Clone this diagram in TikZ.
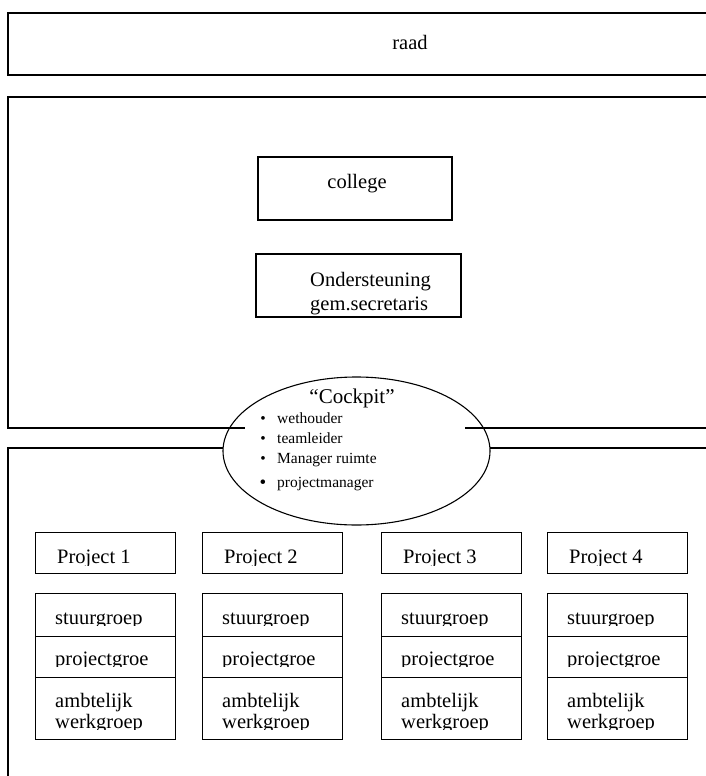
\documentclass[tikz,border=0pt]{standalone}
\usepackage{fontspec}
\setmainfont{Liberation Serif}
\usetikzlibrary{shapes.geometric}
\newcommand\cliplbl[5]{%
  \begin{scope}
    \clip (#1-8,#2-30) rectangle (#1+130,#3);
    \node[lbl] (#4) at (#1,#2) {#5};
  \end{scope}}
\begin{document}
\begin{tikzpicture}[x=1pt,y=-1pt,
  frame/.style={line width=1.4pt},
  box/.style={draw,line width=1.1pt,inner sep=0},
  lbl/.style={font=\fontsize{20.5}{23}\selectfont,anchor=base west,inner sep=0},
  clbl/.style={font=\fontsize{20.5}{23}\selectfont,anchor=base,inner sep=0},
  item/.style={font=\fontsize{15.5}{18}\selectfont,anchor=base west,inner sep=0},
  bul/.style={font=\fontsize{15.5}{18}\selectfont,anchor=base,inner sep=0}]
\useasboundingbox[fill=white] (0,0) rectangle (705,776);

% raad
\coordinate (r1) at (712,13);
\coordinate (r2) at (8,13);
\coordinate (r3) at (8,75);
\coordinate (r4) at (712,75);
\draw[frame] (r1) -- (r2) -- (r3) -- (r4);
\node[clbl] (raad) at (410,50) {raad};

% middle frame
\coordinate (m1) at (712,97);
\coordinate (m2) at (8,97);
\coordinate (m3) at (8,428);
\coordinate (m4) at (245,428);
\coordinate (m5) at (465,428);
\coordinate (m6) at (712,428);
\draw[frame] (m1) -- (m2) -- (m3) -- (m4);
\draw[frame] (m5) -- (m6);

% lower frame
\coordinate (b1) at (223,448);
\coordinate (b2) at (8,448);
\coordinate (b3) at (8,780);
\coordinate (b4) at (490,448);
\coordinate (b5) at (712,448);
\draw[frame] (b1) -- (b2) -- (b3);
\draw[frame] (b4) -- (b5);

% college
\node[box,minimum width=194,minimum height=63] (college) at (355,188.5) {};
\node[clbl] (collegetxt) at (357,188) {college};

% ondersteuning
\node[box,minimum width=205,minimum height=63] (onder) at (358.5,285.5) {};
\node[lbl] (ond1) at (310,286) {Ondersteuning};
\node[lbl] (ond2) at (310,310) {gem.secretaris};

% cockpit
\node[draw,ellipse,line width=1.1pt,minimum width=267,minimum height=148,inner sep=0] (cockpit) at (356.5,451) {};
\node[font=\fontsize{21}{24}\selectfont,anchor=base,inner sep=0] (cockpittxt) at (352,403) {“Cockpit”};
\node[bul] (bu1) at (263,423) {•};
\node[item] (it1) at (277,423) {wethouder};
\node[bul] (bu2) at (263,443) {•};
\node[item] (it2) at (277,443) {teamleider};
\node[bul] (bu3) at (263,463) {•};
\node[item] (it3) at (277,463) {Manager ruimte};
\node[bul,font=\fontsize{19}{20}\selectfont] (bu4) at (263,488) {•};
\node[item] (it4) at (277,487) {projectmanager};

% projects
\foreach \i/\x in {1/35,2/202,3/381,4/547}{
  \node[box,minimum width=140,minimum height=41,anchor=north west] (p\i) at (\x,532) {};
  \node[box,minimum width=140,minimum height=43,anchor=north west] (s\i) at (\x,593) {};
  \node[box,minimum width=140,minimum height=41,anchor=north west] (g\i) at (\x,636) {};
  \node[box,minimum width=140,minimum height=62,anchor=north west] (a\i) at (\x,677) {};
  \cliplbl{\x+22}{563}{565}{pt\i}{Project \i}
  \cliplbl{\x+20}{624}{625.5}{st\i}{stuurgroep}
  \cliplbl{\x+20}{665}{666.5}{gt\i}{projectgroe}
  \cliplbl{\x+20}{707}{729}{at\i}{ambtelijk}
  \cliplbl{\x+20}{728}{729}{wt\i}{werkgroep}
}
\end{tikzpicture}
\end{document}
